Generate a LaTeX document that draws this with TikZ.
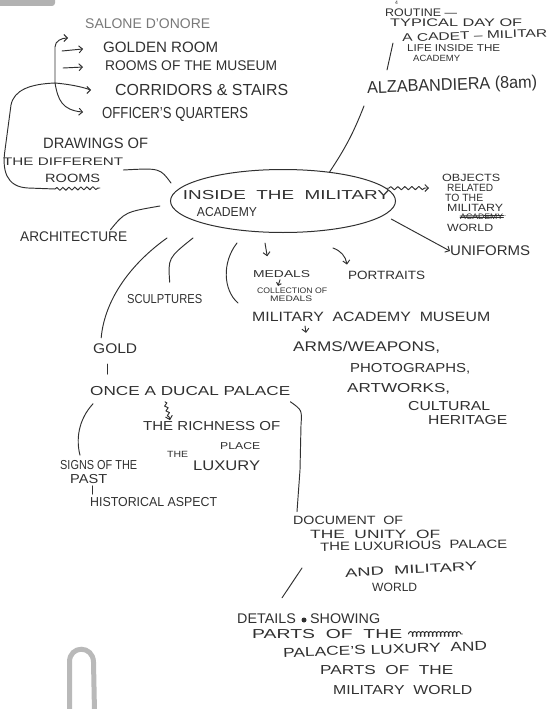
\documentclass[tikz,border=0pt]{standalone}
\usepackage{fontspec}
\setmainfont{Liberation Sans}
\usepackage{graphicx}
\usetikzlibrary{shapes.geometric, arrows.meta, decorations.pathmorphing}
\definecolor{ink}{HTML}{303030}
\newcommand\hwt[3]{\fontsize{#1}{#1}\selectfont\resizebox{#2pt}{\height}{#3}}
\begin{document}
\begin{tikzpicture}[x=1pt,y=-1pt,
  hw/.style={inner sep=0pt, anchor=west, text=ink},
  ln/.style={draw=ink, line width=0.95pt, line cap=round, line join=round},
  ar/.style={ln, -{Straight Barb[length=3.5pt,width=7pt]}},
  sar/.style={ln, -{Straight Barb[length=2.5pt,width=5pt]}},
  sq/.style={decorate, decoration={snake, amplitude=1.6pt, segment length=7pt, post length=4pt, pre length=2pt}}]
\useasboundingbox (0,0) rectangle (548,709);
% scan artefacts
\fill[gray!60, rounded corners=3pt] (-5,-5) rectangle (55,6);
\draw[gray!55, line width=5pt] (69.5,712) -- (69.5,662) .. controls (69.5,645) and (93,645) .. (93.5,662) -- (94.5,712);

% top-left list
\node[hw, text=ink!65] (sal) at (85,24) {\hwt{14}{125}{SALONE D'ONORE}};
\node[hw] (goldr) at (103,47) {\hwt{15}{115}{GOLDEN ROOM}};
\node[hw] (rooms) at (105,66) {\hwt{14}{172}{ROOMS OF THE MUSEUM}};
\node[hw] (corr) at (115,90) {\hwt{16}{173}{CORRIDORS \& STAIRS}};
\node[hw] (off) at (102,114) {\hwt{16}{146}{OFFICER'S QUARTERS}};
\coordinate (br) at (55,83);
\coordinate (b1) at (68,38);
\coordinate (b2) at (62,51);
\coordinate (b3) at (63,68);
\draw[ar] (br) -- (55,47) to[out=90,in=180] (b1);
\draw[ar, shorten >=20pt] (b2) -- (goldr.west);
\draw[ar, shorten >=22pt] (b3) -- (rooms.west);
\draw[ar, shorten >=24pt] (br) to[out=-5,in=180] (corr.west);
\draw[ar, shorten >=19pt] (br) .. controls (58,100) and (62,110) .. (off.west);

% routine block
\node[hw, font=\fontsize{5}{5}\selectfont] (r0) at (395,2.5) {4};
\node[hw] (r1) at (385,13) {\hwt{11}{72}{ROUTINE —}};
\node[hw] (r2) at (390,23) {\hwt{11}{132}{TYPICAL DAY OF}};
\node[hw, rotate=2] (r3) at (402,38) {\hwt{11}{145}{A CADET – MILITAR}};
\node[hw] (r4) at (407,48) {\hwt{10}{93}{LIFE INSIDE THE}};
\node[hw] (r5) at (413,58) {\hwt{9}{47}{ACADEMY}};
\node[hw, rotate=2] (alza) at (367,89) {\hwt{17}{170}{ALZABANDIERA (8am)}};
\draw[ln] (393,43) -- (387,70);

% drawings
\node[hw] (dr1) at (43,143) {\hwt{15}{105}{DRAWINGS OF}};
\node[hw] (dr2) at (3,162) {\hwt{11}{120}{THE DIFFERENT}};
\node[hw] (dr3) at (45,178) {\hwt{12}{55}{ROOMS}};
\coordinate (sqa) at (55,189);
\coordinate (sqb) at (100,188);
\draw[ln] (br) .. controls (30,84) and (14,90) .. (11,105) -- (5,150) .. controls (2,170) and (6,187) .. (28,188) -- (sqa);
\draw[ln, decorate, decoration={snake, amplitude=1.5pt, segment length=6pt}] (sqa) -- (sqb);

% centre
\node[draw=ink, line width=1pt, ellipse, minimum width=225pt, minimum height=63pt, inner sep=0pt,
  label={[inner sep=0pt, text=ink, align=left, xshift=3.5pt, yshift=-3pt]center:{\hwt{13}{207}{INSIDE\ \ THE\ \ MILITARY}\\[5pt]\hspace*{14pt}\hwt{13}{60}{ACADEMY}}}] (ell) at (283,201) {};
\draw[ln] ([yshift=-8pt]dr2.east) .. controls (160,168) .. ([xshift=1pt,yshift=18pt]ell.west);
\draw[ln] (ell.32) to[bend right=6] ([xshift=-3pt,yshift=-17pt]alza.west);

% objects
\node[hw] (o1) at (442,178) {\hwt{10.5}{58}{OBJECTS}};
\node[hw] (o2) at (447,188) {\hwt{10.5}{46}{RELATED}};
\node[hw] (o3) at (445,198) {\hwt{10.5}{38}{TO THE}};
\node[hw] (o4) at (447,208) {\hwt{10.5}{56}{MILITARY}};
\node[hw] (o5) at (460,217) {\hwt{8}{43}{ACADEMY}};
\node[hw] (o5d) at (504,216) {\hwt{8}{2}{.}};
\draw[ln] (o5.west) -- (o5.east);
\draw[ln] ([yshift=1pt]o5.west) -- ([yshift=1.5pt]o5.east);
\node[hw] (o6) at (447,228) {\hwt{10.5}{46}{WORLD}};
\draw[ar, sq] (ell.7) -- ([xshift=-18pt]o2.west);

\node[hw] (unif) at (450,251) {\hwt{14}{80}{UNIFORMS}};
\draw[ar, shorten <=8pt] (ell.-8) -- (unif.west);

% museum branch
\node[hw] (med) at (253,274) {\hwt{10}{57}{MEDALS}};
\node[hw] (coll) at (257,291) {\hwt{8}{70}{COLLECTION OF}};
\node[hw] (med2) at (270,299) {\hwt{8}{42}{MEDALS}};
\node[hw] (port) at (348,275) {\hwt{12}{77}{PORTRAITS}};
\node[hw] (mus) at (252,317) {\hwt{13.5}{238}{MILITARY\ \ ACADEMY\ \ MUSEUM}};
\node[hw] (arms) at (293,347) {\hwt{14}{147}{ARMS/WEAPONS,}};
\node[hw] (photo) at (350,369) {\hwt{13}{120}{PHOTOGRAPHS,}};
\node[hw] (art) at (347,389) {\hwt{13}{103}{ARTWORKS,}};
\node[hw] (cult) at (408,406) {\hwt{13}{82}{CULTURAL}};
\node[hw] (her) at (428,420) {\hwt{13}{79}{HERITAGE}};
\draw[ar] ([xshift=-18pt,yshift=-10pt]ell.south) -- ([xshift=-14.5pt,yshift=14pt]med.north);
\draw[sar] ([xshift=27pt,yshift=-2pt]med.south west) -- ([xshift=21pt,yshift=2pt]coll.north west);
\draw[ar] ([xshift=50pt,yshift=-15pt]ell.south) to[out=-20,in=100] ([xshift=-1pt,yshift=6pt]port.north west);
\draw[ln] (237,243) .. controls (222,262) and (223,290) .. (238,303);
\draw[ar] ([xshift=53pt,yshift=-4pt]mus.south west) -- ([xshift=13pt,yshift=8pt]arms.north west);

% left branches
\node[hw] (sculp) at (127,299) {\hwt{13}{75}{SCULPTURES}};
\node[hw] (arch) at (20,237) {\hwt{14}{107}{ARCHITECTURE}};
\node[hw] (gold) at (93,349) {\hwt{14}{44}{GOLD}};
\draw[ln] ([xshift=5pt,yshift=12pt]sculp.north) .. controls (168,258) .. ([xshift=-90pt,yshift=-5pt]ell.south);
\draw[ln] ([xshift=-17pt,yshift=2pt]arch.north east) .. controls (125,212) .. ([xshift=-10pt,yshift=-5pt]ell.west);
\draw[ln] ([xshift=-116pt,yshift=-5pt]ell.south) .. controls (125,268) and (104,305) .. ([xshift=-14pt,yshift=6pt]gold.north);

% palace
\node[hw] (once) at (90,391) {\hwt{13}{200}{ONCE\ A\ DUCAL PALACE}};
\node[hw] (rich) at (143,426) {\hwt{13}{137}{THE RICHNESS OF}};
\node[hw] (the) at (167,454) {\hwt{9}{21}{THE}};
\node[hw] (place) at (220,446) {\hwt{10}{40}{PLACE}};
\node[hw] (lux) at (193,466) {\hwt{14}{67}{LUXURY}};
\node[hw] (signs) at (60,465) {\hwt{13}{77}{SIGNS OF THE}};
\node[hw] (past) at (70,479) {\hwt{13}{37}{PAST}};
\node[hw] (hist) at (90,502) {\hwt{13}{127}{HISTORICAL ASPECT}};
\draw[ln] ([xshift=14pt,yshift=-10pt]gold.south west) -- ([xshift=17pt,yshift=12pt]once.north west);
\draw[ar, decorate, decoration={snake, amplitude=1.5pt, segment length=5pt, post length=3pt}] ([xshift=75pt,yshift=-6pt]once.south west) -- ([xshift=27pt,yshift=1pt]rich.north west);
\draw[ln] ([xshift=3pt,yshift=-8pt]once.south west) .. controls (78,420) and (76,440) .. ([xshift=20pt,yshift=5pt]signs.north west);
\draw[ln] ([xshift=22pt,yshift=-2pt]past.south west) -- ([xshift=2pt,yshift=3pt]hist.north west);

% document
\node[hw] (doc) at (293,520) {\hwt{12}{110}{DOCUMENT\ \ OF}};
\node[hw] (unity) at (310,534) {\hwt{12}{130}{THE\ \ UNITY\ \ OF}};
\node[hw, rotate=1] (luxp) at (320,547) {\hwt{12}{187}{THE LUXURIOUS\ \ PALACE}};
\node[hw, rotate=3] (andm) at (345,573) {\hwt{12}{132}{AND\ \ MILITARY}};
\node[hw] (world) at (372,587) {\hwt{12}{45}{WORLD}};
\draw[ln] ([yshift=-6pt]once.south east) .. controls (302,410) .. (301,425) -- (300,470) -- ([xshift=4pt,yshift=4pt]doc.north west);

% details
\node[hw] (det) at (237,619) {\hwt{14}{143}{DETAILS\hspace{14pt}SHOWING}};
\node[hw] (parts1) at (252,634) {\hwt{13}{150}{PARTS\ \ OF\ \ THE}};
\node[hw, rotate=2] (pal) at (283,653) {\hwt{13}{204}{PALACE'S LUXURY\ \ AND}};
\node[hw] (parts2) at (320,670) {\hwt{13}{133}{PARTS\ \ OF\ \ THE}};
\node[hw] (milw) at (333,690) {\hwt{13}{139}{MILITARY\ \ WORLD}};
\fill[ink] (304,620) circle (2.5pt);
\draw[ln, decorate, decoration={coil, aspect=0.5, segment length=4pt, amplitude=2.5pt}] ([xshift=6pt]parts1.east) -- ([xshift=60pt]parts1.east);
\draw[ln] ([xshift=-43pt,yshift=5pt]andm.west) -- ([xshift=45pt,yshift=16pt]det.north west);
\end{tikzpicture}
\end{document}
